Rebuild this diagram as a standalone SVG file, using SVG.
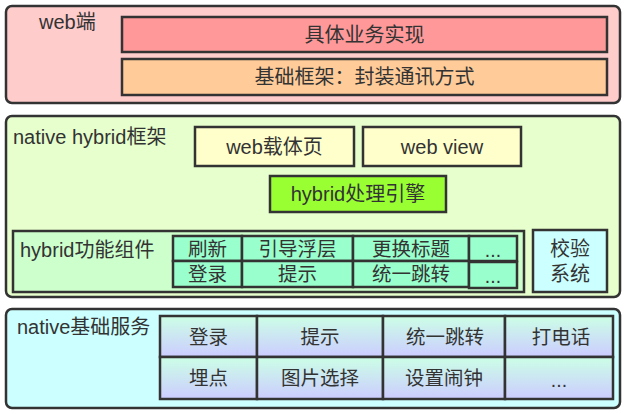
<svg xmlns="http://www.w3.org/2000/svg" width="628" height="414" viewBox="0 0 628 414">
<defs>
<linearGradient id="svc" x1="0" y1="0" x2="0" y2="1">
<stop offset="0" stop-color="#ccffe6"/>
<stop offset="1" stop-color="#ccccff"/>
</linearGradient>
<style>
rect{stroke:#333;stroke-width:2.5}
text{font-family:"Liberation Sans","Noto Sans CJK SC",sans-serif;fill:#333}
.sec{font-size:20px}
.lbl{font-size:20px;text-anchor:middle;dominant-baseline:central}
.cell{font-size:19.5px;text-anchor:middle;dominant-baseline:central}
.c-red{fill:#ff9999}
.c-org{fill:#ffcc99}
.c-yel{fill:#ffffcc}
.c-lime{fill:#99ff33}
.c-mint{fill:#99ffcc}
.c-cyan{fill:#ccffff}
.c-svc{fill:url(#svc)}
</style>
</defs>

<g id="web-layer">
<rect x="6" y="6" width="614" height="97" rx="6" fill="#ffcccc"/>
<text class="sec" x="39" y="29">web端</text>
</g>
<g id="node-business">
<rect class="c-red" x="122" y="17" width="485" height="35"/>
<text class="lbl" x="364.5" y="35">具体业务实现</text>
</g>
<g id="node-framework">
<rect class="c-org" x="122" y="59" width="485" height="36"/>
<text class="lbl" x="364.5" y="77">基础框架：封装通讯方式</text>
</g>

<g id="hybrid-layer">
<rect x="6" y="116" width="614" height="181" rx="6" fill="#e6ffcc"/>
<text class="sec" x="13" y="144">native hybrid框架</text>
</g>
<g id="node-webpage">
<rect class="c-yel" x="195" y="127" width="159" height="39"/>
<text class="lbl" x="274.5" y="146.5">web载体页</text>
</g>
<g id="node-webview">
<rect class="c-yel" x="363" y="127" width="158" height="39"/>
<text class="lbl" x="442" y="146.5">web view</text>
</g>
<g id="node-engine">
<rect class="c-lime" x="270" y="176" width="176" height="36"/>
<text class="lbl" x="358" y="194">hybrid处理引擎</text>
</g>
<g id="node-components">
<rect x="13" y="231" width="511" height="61" fill="#ccffcc"/>
<text class="sec" x="20" y="257">hybrid功能组件</text>
<rect class="c-mint" x="173" y="236" width="69" height="25"/>
<rect class="c-mint" x="242" y="236" width="111" height="25"/>
<rect class="c-mint" x="353" y="236" width="116" height="25"/>
<rect class="c-mint" x="469" y="236" width="48" height="25"/>
<rect class="c-mint" x="173" y="261" width="69" height="26"/>
<rect class="c-mint" x="242" y="261" width="111" height="26"/>
<rect class="c-mint" x="353" y="261" width="116" height="26"/>
<rect class="c-mint" x="469" y="262" width="48" height="26"/>
<text class="cell" x="207.5" y="248.5">刷新</text>
<text class="cell" x="297.5" y="248.5">引导浮层</text>
<text class="cell" x="411" y="248.5">更换标题</text>
<text class="cell" x="493" y="249.5">...</text>
<text class="cell" x="207.5" y="274">登录</text>
<text class="cell" x="297.5" y="274">提示</text>
<text class="cell" x="411" y="274">统一跳转</text>
<text class="cell" x="493" y="275.5">...</text>
</g>
<g id="node-verify">
<rect class="c-cyan" x="533" y="230" width="74" height="62"/>
<text class="lbl" x="570" y="249">校验</text>
<text class="lbl" x="570" y="274">系统</text>
</g>

<g id="native-layer">
<rect x="6" y="309" width="614" height="99" rx="6" fill="#ccffff"/>
<text class="sec" x="17" y="334">native基础服务</text>
</g>
<g id="node-services">
<rect class="c-svc" x="160" y="316" width="97" height="41"/>
<rect class="c-svc" x="257" y="316" width="126" height="41"/>
<rect class="c-svc" x="383" y="316" width="122" height="41"/>
<rect class="c-svc" x="505" y="316" width="108" height="41"/>
<rect class="c-svc" x="160" y="357" width="97" height="42"/>
<rect class="c-svc" x="257" y="357" width="126" height="42"/>
<rect class="c-svc" x="383" y="357" width="122" height="42"/>
<rect class="c-svc" x="505" y="357" width="108" height="42"/>
<text class="cell" x="208.5" y="337">登录</text>
<text class="cell" x="320" y="337">提示</text>
<text class="cell" x="445" y="337">统一跳转</text>
<text class="cell" x="561" y="337">打电话</text>
<text class="cell" x="208.5" y="378">埋点</text>
<text class="cell" x="320" y="378">图片选择</text>
<text class="cell" x="444" y="378">设置闹钟</text>
<text class="cell" x="559" y="380">...</text>
</g>

<g id="connectors"/>
</svg>
